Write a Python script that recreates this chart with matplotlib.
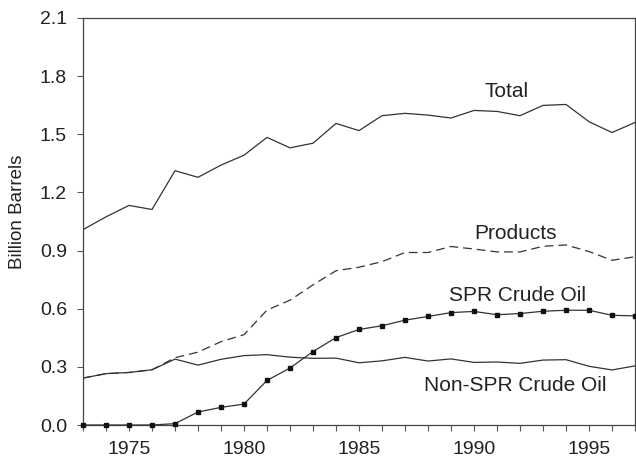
import numpy as np
import matplotlib.pyplot as plt

plt.rcParams['font.family'] = ['Liberation Sans', 'DejaVu Sans']

years = list(range(1973, 1998))

# billion barrels, end of year
total = [1.008, 1.074, 1.133, 1.112, 1.312, 1.278, 1.341, 1.392, 1.484, 1.430,
         1.454, 1.556, 1.519, 1.596, 1.608, 1.599, 1.584, 1.623, 1.618, 1.596,
         1.649, 1.654, 1.565, 1.509, 1.561]
products = [0.242, 0.265, 0.271, 0.285, 0.347, 0.376, 0.430, 0.466, 0.593, 0.644,
            0.723, 0.796, 0.814, 0.843, 0.890, 0.890, 0.921, 0.908, 0.893, 0.893,
            0.922, 0.929, 0.895, 0.850, 0.868]
spr_crude = [0.0, 0.0, 0.0, 0.0, 0.007, 0.067, 0.091, 0.108, 0.230, 0.294,
             0.379, 0.451, 0.493, 0.512, 0.541, 0.560, 0.580, 0.586, 0.569, 0.575,
             0.587, 0.592, 0.592, 0.566, 0.563]
non_spr_crude = [0.242, 0.265, 0.271, 0.285, 0.340, 0.309, 0.339, 0.358, 0.363, 0.350,
                 0.344, 0.345, 0.321, 0.331, 0.349, 0.330, 0.341, 0.323, 0.325, 0.318,
                 0.335, 0.337, 0.303, 0.284, 0.305]

line_color = '#333333'

fig = plt.figure(figsize=(6.36, 4.59), dpi=100)
ax = fig.add_axes([83 / 636, 34 / 459, 552 / 636, 407 / 459])

ax.plot(years, total, color=line_color, lw=0.9)
ax.plot(years, non_spr_crude, color=line_color, lw=0.9)
ax.plot(years, products, color=line_color, lw=0.9, linestyle=(0, (7, 4)))
ax.plot(years, spr_crude, color=line_color, lw=0.9, marker='s', markersize=3.0,
        markerfacecolor='#111111', markeredgecolor='#111111', clip_on=False, zorder=5)

# series labels
ax.text(1991.43, 1.722, 'Total', fontsize=15, ha='center', va='center', color='#222222')
ax.text(1991.8, 0.99, 'Products', fontsize=15, ha='center', va='center', color='#222222')
ax.text(1991.9, 0.670, 'SPR Crude Oil', fontsize=15, ha='center', va='center', color='#222222')
ax.text(1991.8, 0.206, 'Non-SPR Crude Oil', fontsize=15, ha='center', va='center', color='#222222')

ax.set_xlim(1973, 1997)
ax.set_ylim(0, 2.1)
ax.set_yticks(np.arange(0, 2.11, 0.3))
ax.set_yticklabels(['%.1f' % v for v in np.arange(0, 2.11, 0.3)])
ax.set_xticks([1975, 1980, 1985, 1990, 1995])
ax.set_xticks(years, minor=True)

ax.tick_params(axis='both', which='both', direction='out', length=4.5, width=0.8,
               color='#555555', labelsize=14, labelcolor='#222222', pad=7)

for side in ['left', 'right', 'top', 'bottom']:
    ax.spines[side].set_color('#444444')
    ax.spines[side].set_linewidth(0.9)

ax.set_ylabel('Billion Barrels', fontsize=13.5, color='#222222')
ax.yaxis.set_label_coords(-0.104, 0.524)

fig.savefig('out.png', dpi=100)
